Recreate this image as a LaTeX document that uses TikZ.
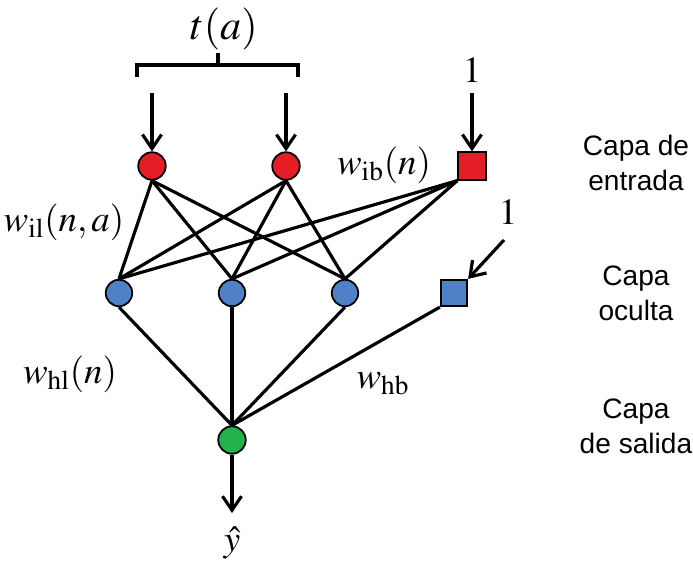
\documentclass[tikz,border=0pt]{standalone}
\usepackage{amsmath}
\usepackage{mathptmx}
\usepackage{fontspec}
\usepackage{xcolor}
\usetikzlibrary{arrows.meta}
\setmainfont{Liberation Serif}
\newfontfamily\capafont{Liberation Sans}
\definecolor{inred}{HTML}{E41E26}
\definecolor{hidblue}{HTML}{4F81C7}
\definecolor{outgreen}{HTML}{22B14C}

\begin{document}
\begin{tikzpicture}[x=0.02cm,y=-0.02cm,line width=1.8pt,
  neuron/.style={circle,draw=black,line width=1pt,inner sep=0pt,minimum size=0.55cm},
  bias/.style={rectangle,draw=black,line width=1pt,inner sep=0pt,minimum size=0.55cm},
  lbl/.style={font=\fontsize{21}{24}\selectfont,inner sep=1pt},
  capa/.style={font=\capafont\fontsize{16}{20}\selectfont,align=center},
  arr/.style={-{Straight Barb[length=2.8mm,width=3.8mm]}}
]
  \useasboundingbox (0,0) rectangle (693,571);

  % input layer
  \node[neuron,fill=inred] (i1) at (152,166) {};
  \node[neuron,fill=inred] (i2) at (286,166) {};
  \node[bias,fill=inred] (ib) at (472,166) {};

  % hidden layer
  \node[neuron,fill=hidblue,minimum size=0.53cm] (h1) at (119,293) {};
  \node[neuron,fill=hidblue,minimum size=0.53cm] (h2) at (232,293) {};
  \node[neuron,fill=hidblue,minimum size=0.53cm] (h3) at (345,293) {};
  \node[bias,fill=hidblue,minimum size=0.53cm] (hb) at (454,293) {};

  % output layer
  \node[neuron,fill=outgreen,minimum size=0.55cm] (o) at (232,440) {};

  % weights
  \foreach \a in {i1,i2}
    \foreach \b in {h1,h2,h3}
      \draw (\a.south) -- (\b.north);
  \foreach \b in {h1,h2,h3}
    \draw (ib.south west) -- (\b.north);
  \foreach \b in {h1,h2,h3}
    \draw (\b.south) -- (o.north);
  \draw (hb.south west) -- (o.north);

  % inputs and output
  \coordinate (t1) at (152,93);
  \coordinate (t2) at (286,93);
  \coordinate (one1) at (472,93);
  \coordinate (one2) at (504,240);
  \coordinate (yout) at (232,513);
  \draw[arr] (t1) -- (i1.north);
  \draw[arr] (t2) -- (i2.north);
  \draw[arr] (one1) -- (ib.north);
  \draw[arr] (one2) -- (hb.north east);
  \draw[arr] (o.south) -- (yout);

  % brace over the inputs
  \draw (137,77) -- (137,65) -- (298,65) -- (298,77);
  \draw (218,65) -- (218,53);

  \node[lbl,font=\fontsize{24}{28}\selectfont] (ta) at (224,29) {$t(a)$};
  \node[lbl] (l1) at (472,70) {$1$};
  \node[lbl] (l2) at (508,212) {$1$};
  \node[lbl] (yhat) at (232,543) {$\hat{y}$};
  \node[lbl] (wib) at (384,165) {$w_{\mathrm{ib}}(n)$};
  \node[lbl] (wil) at (64,222) {$w_{\mathrm{il}}(n,a)$};
  \node[lbl] (whl) at (70,374) {$w_{\mathrm{hl}}(n)$};
  \node[lbl] (whb) at (383,384) {$w_{\mathrm{hb}}$};

  \node[capa] (cin) at (636,163) {Capa de\\entrada};
  \node[capa] (chid) at (636,293) {Capa\\oculta};
  \node[capa] (cout) at (636,426) {Capa\\de salida};
\end{tikzpicture}
\end{document}
